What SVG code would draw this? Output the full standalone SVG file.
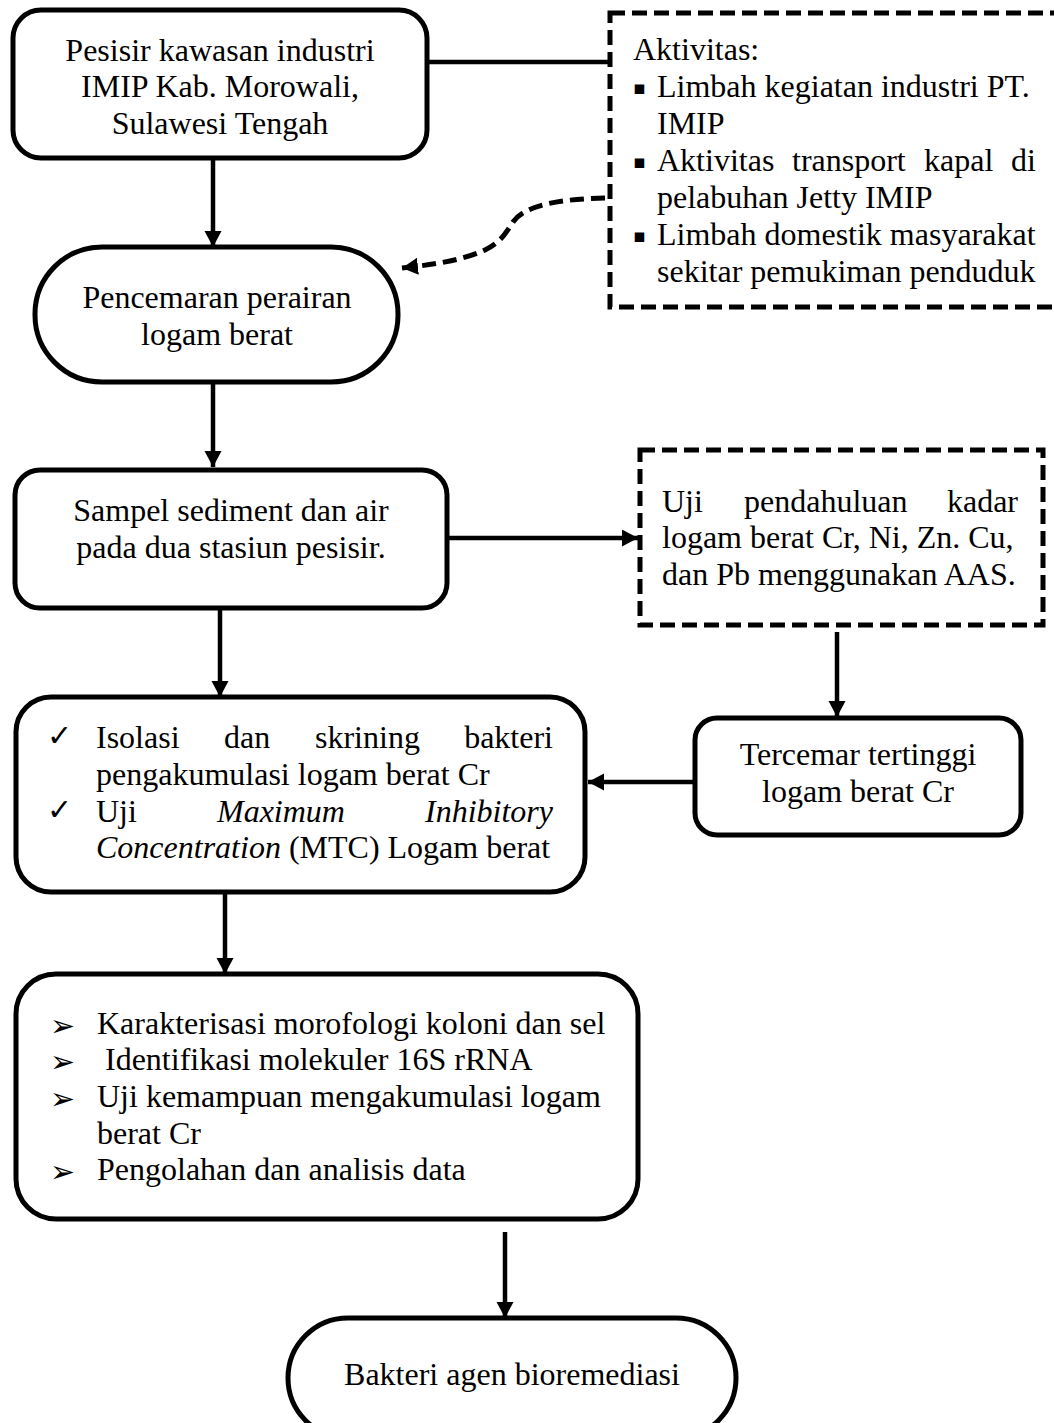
<svg xmlns="http://www.w3.org/2000/svg" width="1054" height="1423" viewBox="0 0 1054 1423">
<style>
.box{fill:#fff;stroke:#000;stroke-width:5}
.dbox{fill:#fff;stroke:#000;stroke-width:5;stroke-dasharray:15 7}
.t{font-family:"Liberation Serif","Times New Roman",serif;font-size:32px;fill:#000}
.c{text-anchor:middle}
.i{font-style:italic}
.sym{font-family:"DejaVu Sans",sans-serif;fill:#000}
.chk{font-size:30px}
.arr{font-size:30px}
.bul{font-size:19px}
.ln{stroke:#000;stroke-width:4.5;fill:none}
.dl{stroke:#000;stroke-width:5;fill:none;stroke-dasharray:14 7}
</style>
<defs>
<marker id="ah" markerUnits="userSpaceOnUse" markerWidth="18" markerHeight="18" refX="16" refY="8.5" orient="auto">
<path d="M0,0 L16,8.5 L0,17 z" fill="#000"/>
</marker>
</defs>
<g id="connectors">
<line class="ln" x1="427" y1="62" x2="608" y2="62"/>
<line class="ln" x1="213" y1="158" x2="213" y2="247" marker-end="url(#ah)"/>
<line class="ln" x1="213" y1="382" x2="213" y2="467" marker-end="url(#ah)"/>
<line class="ln" x1="220" y1="608" x2="220" y2="697" marker-end="url(#ah)"/>
<line class="ln" x1="447" y1="538" x2="638" y2="538" marker-end="url(#ah)"/>
<line class="ln" x1="837" y1="632" x2="837" y2="717" marker-end="url(#ah)"/>
<line class="ln" x1="695" y1="782" x2="588" y2="782" marker-end="url(#ah)"/>
<line class="ln" x1="225" y1="892" x2="225" y2="974" marker-end="url(#ah)"/>
<line class="ln" x1="505" y1="1232" x2="505" y2="1318" marker-end="url(#ah)"/>
<path class="dl" d="M605,198 C560,199 525,205 513,222 C506,233 500,243 485,250 C465,259 440,264 402,268" marker-end="url(#ah)"/>
</g>
<g id="n1">
<rect class="box" x="13" y="10" width="414" height="148" rx="28"/>
<text class="t c" x="220" y="61">Pesisir kawasan industri</text>
<text class="t c" x="220" y="97">IMIP Kab. Morowali,</text>
<text class="t c" x="220" y="134">Sulawesi Tengah</text>
</g>
<g id="n2">
<rect class="dbox" x="610" y="13" width="470" height="294"/>
<text class="t" x="633" y="60">Aktivitas:</text>
<text class="sym bul" x="633" y="94">▪</text>
<text class="t" x="657" y="97">Limbah kegiatan industri PT.</text>
<text class="t" x="657" y="134">IMIP</text>
<text class="sym bul" x="633" y="168">▪</text>
<text class="t" y="171"><tspan x="657">Aktivitas</tspan><tspan x="792">transport</tspan><tspan x="924">kapal</tspan><tspan x="1036" text-anchor="end">di</tspan></text>
<text class="t" x="657" y="208">pelabuhan Jetty IMIP</text>
<text class="sym bul" x="633" y="242">▪</text>
<text class="t" x="657" y="245">Limbah domestik masyarakat</text>
<text class="t" x="657" y="282">sekitar pemukiman penduduk</text>
</g>
<g id="n3">
<rect class="box" x="35" y="247" width="363" height="135" rx="67"/>
<text class="t c" x="217" y="308">Pencemaran perairan</text>
<text class="t c" x="217" y="345">logam berat</text>
</g>
<g id="n4">
<rect class="box" x="15" y="470" width="432" height="138" rx="25"/>
<text class="t c" x="231" y="521">Sampel sediment dan air</text>
<text class="t c" x="231" y="558">pada dua stasiun pesisir.</text>
</g>
<g id="n5">
<rect class="dbox" x="640" y="450" width="403" height="175"/>
<text class="t" y="512"><tspan x="662">Uji</tspan><tspan x="744">pendahuluan</tspan><tspan x="1018" text-anchor="end">kadar</tspan></text>
<text class="t" x="662" y="548">logam berat Cr, Ni, Zn. Cu,</text>
<text class="t" x="662" y="585">dan Pb menggunakan AAS.</text>
</g>
<g id="n6">
<rect class="box" x="695" y="718" width="326" height="117" rx="22"/>
<text class="t c" x="858" y="765">Tercemar tertinggi</text>
<text class="t c" x="858" y="802">logam berat Cr</text>
</g>
<g id="n7">
<rect class="box" x="16" y="697" width="569" height="195" rx="35"/>
<text class="sym chk" x="47" y="746">✓</text>
<text class="t" y="748"><tspan x="96">Isolasi</tspan><tspan x="224">dan</tspan><tspan x="315">skrining</tspan><tspan x="553" text-anchor="end">bakteri</tspan></text>
<text class="t" x="96" y="785">pengakumulasi logam berat Cr</text>
<text class="sym chk" x="47" y="820">✓</text>
<text class="t" y="822"><tspan x="96">Uji</tspan><tspan x="217" class="i">Maximum</tspan><tspan x="553" text-anchor="end" class="i">Inhibitory</tspan></text>
<text class="t" x="96" y="858"><tspan class="i">Concentration</tspan> (MTC) Logam berat</text>
</g>
<g id="n8">
<rect class="box" x="16" y="974" width="622" height="245" rx="40"/>
<text class="sym arr" x="50" y="1036">➢</text>
<text class="t" x="97" y="1034">Karakterisasi morofologi koloni dan sel</text>
<text class="sym arr" x="50" y="1072">➢</text>
<text class="t" x="105" y="1070">Identifikasi molekuler 16S rRNA</text>
<text class="sym arr" x="50" y="1109">➢</text>
<text class="t" x="97" y="1107">Uji kemampuan mengakumulasi logam</text>
<text class="t" x="97" y="1144">berat Cr</text>
<text class="sym arr" x="50" y="1182">➢</text>
<text class="t" x="97" y="1180">Pengolahan dan analisis data</text>
</g>
<g id="n9">
<rect class="box" x="288" y="1318" width="448" height="120" rx="60"/>
<text class="t c" x="512" y="1385">Bakteri agen bioremediasi</text>
</g>
</svg>
